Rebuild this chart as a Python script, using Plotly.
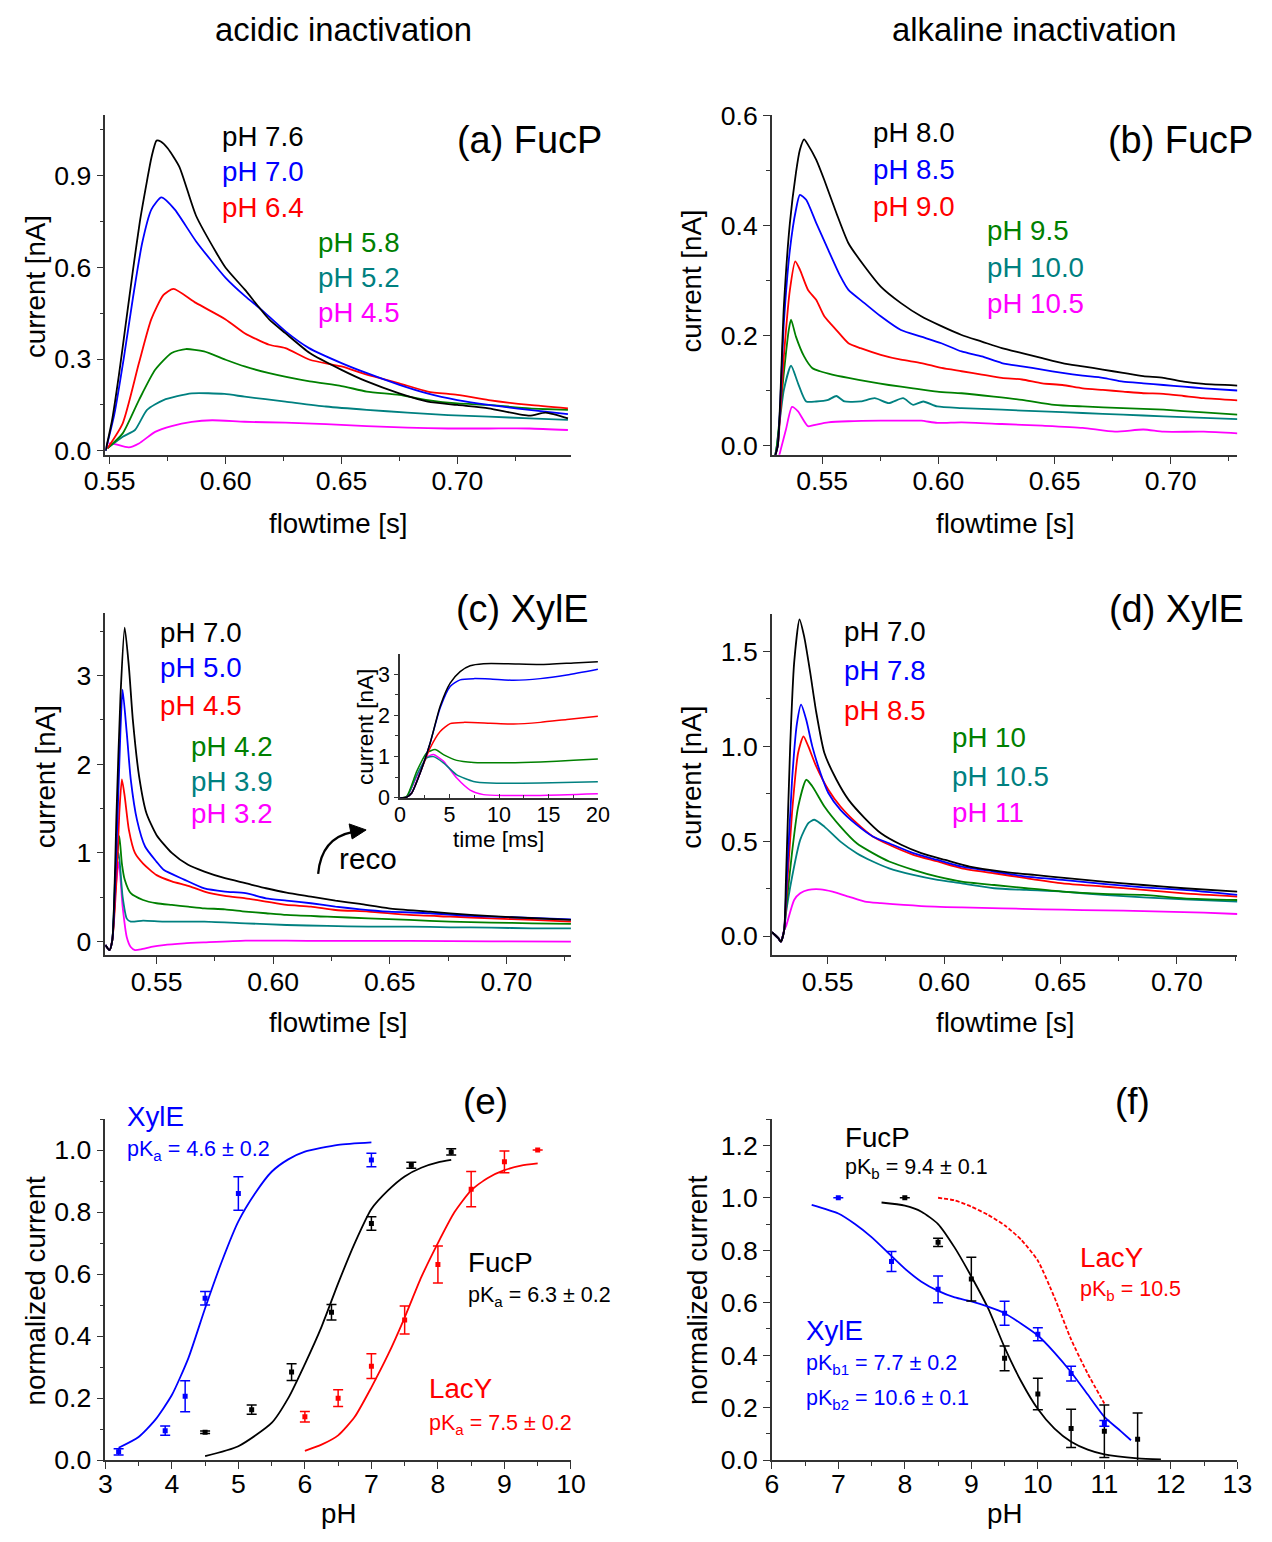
import plotly.graph_objects as go

W, H = 1272, 1542
FONT = "Liberation Sans, Arial, sans-serif"
AXC = "#333333"

BLACK = "#000000"
BLUE = "#0000ff"
RED = "#ff0000"
GREEN = "#008000"
TEAL = "#008080"
MAGENTA = "#ff00ff"

# ---------------- (a) FucP acidic ----------------
a_labels = ["pH 7.6", "pH 7.0", "pH 6.4", "pH 5.8", "pH 5.2", "pH 4.5"]
a76_x = [0.5482, 0.551, 0.554, 0.557, 0.560, 0.563, 0.566, 0.568, 0.5702, 0.572, 0.575, 0.580, 0.5872, 0.596,
         0.600, 0.6082, 0.6188, 0.6258, 0.6363, 0.650, 0.6609, 0.6749, 0.6872, 0.700, 0.7135, 0.7311, 0.7381, 0.7477]
a76_y = [0.0, 0.10, 0.25, 0.42, 0.59, 0.75, 0.88, 0.96, 1.015, 1.012, 0.99, 0.93, 0.77, 0.648,
         0.599, 0.528, 0.43, 0.385, 0.32, 0.265, 0.227, 0.188, 0.161, 0.150, 0.139, 0.115, 0.125, 0.106]
a70_x = [0.5482, 0.552, 0.556, 0.560, 0.564, 0.568, 0.5723, 0.578, 0.5872, 0.600, 0.6084, 0.6154, 0.626, 0.636,
         0.650, 0.661, 0.675, 0.687, 0.700, 0.7135, 0.731, 0.7477]
a70_y = [0.0, 0.12, 0.30, 0.50, 0.68, 0.79, 0.829, 0.79, 0.686, 0.566, 0.506, 0.462, 0.39, 0.336,
         0.287, 0.254, 0.216, 0.188, 0.166, 0.15, 0.134, 0.12]
a64_x = [0.549, 0.5556, 0.5626, 0.5679, 0.5732, 0.5775, 0.5872, 0.600, 0.6082, 0.6188, 0.6258, 0.6363, 0.650,
         0.6609, 0.6749, 0.6872, 0.700, 0.7135, 0.7311, 0.7477]
a64_y = [0.008, 0.09, 0.287, 0.43, 0.51, 0.53, 0.484, 0.43, 0.385, 0.347, 0.336, 0.298, 0.276,
         0.249, 0.221, 0.194, 0.183, 0.166, 0.15, 0.139]
a58_x = [0.549, 0.5556, 0.5626, 0.5696, 0.5767, 0.5828, 0.5907, 0.600, 0.6082, 0.6188, 0.6363, 0.650, 0.6609,
         0.6749, 0.6872, 0.700, 0.7135, 0.7311, 0.7477]
a58_y = [0.008, 0.057, 0.166, 0.265, 0.32, 0.333, 0.325, 0.298, 0.276, 0.254, 0.227, 0.212, 0.194,
         0.183, 0.166, 0.155, 0.15, 0.139, 0.134]
a52_x = [0.549, 0.5556, 0.5609, 0.5661, 0.5732, 0.5854, 0.5995, 0.6082, 0.6258, 0.6433, 0.6609, 0.6784, 0.696,
         0.7135, 0.7311, 0.7477]
a52_y = [0.008, 0.046, 0.068, 0.134, 0.166, 0.188, 0.186, 0.177, 0.161, 0.145, 0.134, 0.125, 0.117,
         0.112, 0.106, 0.101]
a45_x = [0.5495, 0.5521, 0.5582, 0.5626, 0.5696, 0.5767, 0.5854, 0.5942, 0.6082, 0.6258, 0.6433, 0.6609, 0.6784,
         0.696, 0.7135, 0.7311, 0.7477]
a45_y = [0.024, 0.022, 0.011, 0.024, 0.062, 0.081, 0.095, 0.10, 0.095, 0.092, 0.087, 0.081, 0.076,
         0.073, 0.073, 0.073, 0.068]

# ---------------- (b) FucP alkaline ----------------
b_labels = ["pH 8.0", "pH 8.5", "pH 9.0", "pH 9.5", "pH 10.0", "pH 10.5"]
b80_x = [0.5297, 0.5309, 0.5335, 0.5361, 0.5387, 0.5404, 0.5422, 0.5439, 0.5474, 0.5509, 0.5561, 0.5613, 0.5682,
         0.5752, 0.5839, 0.5926, 0.6013, 0.61, 0.6187, 0.6273, 0.636, 0.6447, 0.6534, 0.6621, 0.6708, 0.6795,
         0.6882, 0.6969, 0.7056, 0.7142, 0.7287]
b80_y = [-0.02, 0.0, 0.253, 0.405, 0.496, 0.538, 0.557, 0.547, 0.52, 0.483, 0.423, 0.368, 0.326,
         0.289, 0.259, 0.235, 0.217, 0.201, 0.189, 0.177, 0.168, 0.159, 0.15, 0.144, 0.138, 0.132,
         0.126, 0.123, 0.116, 0.112, 0.109]
b85_x = [0.5297, 0.5309, 0.5335, 0.5361, 0.5387, 0.5404, 0.5431, 0.5474, 0.5526, 0.5578, 0.5613, 0.5682, 0.5752,
         0.5839, 0.5926, 0.6013, 0.61, 0.6187, 0.6273, 0.636, 0.6447, 0.6534, 0.6621, 0.6708, 0.6795, 0.6882,
         0.6969, 0.7056, 0.7142, 0.7287]
b85_y = [-0.02, 0.0, 0.223, 0.356, 0.429, 0.456, 0.447, 0.405, 0.356, 0.308, 0.283, 0.259, 0.235,
         0.21, 0.198, 0.186, 0.171, 0.162, 0.15, 0.144, 0.138, 0.132, 0.127, 0.123, 0.116, 0.113,
         0.11, 0.107, 0.104, 0.10]
b90_x = [0.5297, 0.5309, 0.5335, 0.5361, 0.5384, 0.5404, 0.5439, 0.5474, 0.5509, 0.5561, 0.5613, 0.5665, 0.5752,
         0.5839, 0.5926, 0.6013, 0.61, 0.6187, 0.6273, 0.636, 0.6447, 0.6534, 0.6621, 0.6708, 0.6795, 0.6882,
         0.6969, 0.7056, 0.7142, 0.7287]
b90_y = [-0.02, 0.0, 0.162, 0.283, 0.335, 0.32, 0.283, 0.265, 0.235, 0.21, 0.186, 0.177, 0.165,
         0.156, 0.15, 0.141, 0.135, 0.129, 0.123, 0.12, 0.113, 0.11, 0.104, 0.101, 0.098, 0.095,
         0.094, 0.09, 0.086, 0.082]
b95_x = [0.5297, 0.5305, 0.5335, 0.5356, 0.5366, 0.5387, 0.5422, 0.5457, 0.5491, 0.5543, 0.5613, 0.57, 0.5787,
         0.5891, 0.5995, 0.61, 0.6239, 0.636, 0.6499, 0.6621, 0.6795, 0.6969, 0.7142, 0.7287]
b95_y = [-0.02, 0.0, 0.132, 0.21, 0.229, 0.198, 0.162, 0.141, 0.135, 0.129, 0.123, 0.116, 0.11,
         0.104, 0.098, 0.095, 0.089, 0.083, 0.074, 0.071, 0.068, 0.065, 0.06, 0.056]
b100_x = [0.5297, 0.5305, 0.5335, 0.5366, 0.5396, 0.5431, 0.5474, 0.5526, 0.5561, 0.5596, 0.5665, 0.5726, 0.5787,
          0.5848, 0.5891, 0.5935, 0.5995, 0.61, 0.6273, 0.6447, 0.6621, 0.6795, 0.6969, 0.7142, 0.7287]
b100_y = [-0.02, 0.0, 0.101, 0.145, 0.113, 0.08, 0.08, 0.083, 0.09, 0.08, 0.08, 0.086, 0.077,
          0.086, 0.074, 0.08, 0.071, 0.068, 0.065, 0.062, 0.059, 0.056, 0.053, 0.05, 0.048]
b105_x = [0.5314, 0.5344, 0.537, 0.5396, 0.5439, 0.5474, 0.5526, 0.5613, 0.5752, 0.5839, 0.5926, 0.5995, 0.61,
          0.6273, 0.6447, 0.6621, 0.676, 0.6882, 0.6969, 0.7142, 0.7287]
b105_y = [-0.02, 0.029, 0.07, 0.062, 0.035, 0.038, 0.042, 0.044, 0.045, 0.045, 0.045, 0.041, 0.042,
          0.039, 0.036, 0.032, 0.025, 0.029, 0.025, 0.025, 0.022]

# ---------------- (c) XylE acidic ----------------
c_labels = ["pH 7.0", "pH 5.0", "pH 4.5", "pH 4.2", "pH 3.9", "pH 3.2"]
c70_x = [0.528, 0.5298, 0.531, 0.5328, 0.5345, 0.5363, 0.5381, 0.5398, 0.5425, 0.5456, 0.55, 0.5565, 0.5635,
         0.5705, 0.5793, 0.5881, 0.5969, 0.6057, 0.6162, 0.6267, 0.6373, 0.6496, 0.6671, 0.6847, 0.7023, 0.7277]
c70_y = [-0.038, -0.094, 0.019, 1.45, 2.77, 3.54, 3.10, 2.5, 1.86, 1.45, 1.2, 1.0, 0.866,
         0.79, 0.715, 0.659, 0.602, 0.553, 0.508, 0.463, 0.425, 0.376, 0.339, 0.301, 0.275, 0.245]
c50_x = [0.528, 0.5298, 0.531, 0.5328, 0.5345, 0.5354, 0.5372, 0.5389, 0.5416, 0.5451, 0.55, 0.553, 0.5618,
         0.5705, 0.5793, 0.5881, 0.5969, 0.6057, 0.6162, 0.6267, 0.6373, 0.6496, 0.6671, 0.6847, 0.7023, 0.7277]
c50_y = [-0.038, -0.094, 0.019, 1.07, 2.39, 2.84, 2.35, 1.83, 1.37, 1.07, 0.9, 0.81, 0.70,
         0.60, 0.565, 0.546, 0.489, 0.463, 0.433, 0.395, 0.365, 0.339, 0.32, 0.29, 0.275, 0.252]
c45_x = [0.528, 0.5298, 0.531, 0.5328, 0.534, 0.5351, 0.5363, 0.5381, 0.5407, 0.5442, 0.55, 0.5565, 0.5635,
         0.5705, 0.5793, 0.5881, 0.5969, 0.6057, 0.6162, 0.6267, 0.6408, 0.6584, 0.6759, 0.6935, 0.711, 0.7277]
c45_y = [-0.038, -0.094, 0.019, 0.70, 1.45, 1.83, 1.64, 1.26, 1.0, 0.88, 0.75, 0.68, 0.63,
         0.565, 0.516, 0.489, 0.452, 0.414, 0.395, 0.357, 0.339, 0.301, 0.282, 0.263, 0.245, 0.226]
c42_x = [0.528, 0.5298, 0.531, 0.5328, 0.534, 0.5351, 0.5363, 0.5389, 0.5442, 0.55, 0.5565, 0.5635, 0.5705,
         0.5793, 0.5881, 0.5969, 0.6057, 0.6232, 0.6408, 0.6584, 0.6759, 0.6935, 0.711, 0.7277]
c42_y = [-0.038, -0.094, 0.019, 0.85, 1.19, 0.88, 0.70, 0.546, 0.47, 0.433, 0.414, 0.395, 0.376,
         0.365, 0.339, 0.32, 0.301, 0.282, 0.263, 0.245, 0.226, 0.215, 0.207, 0.2]
c39_x = [0.528, 0.5298, 0.531, 0.5324, 0.5337, 0.5354, 0.5372, 0.5389, 0.5442, 0.553, 0.5705, 0.5881, 0.6057,
         0.6232, 0.6408, 0.6584, 0.6759, 0.6935, 0.711, 0.7277]
c39_y = [-0.038, -0.094, 0.019, 0.8, 1.0, 0.51, 0.26, 0.226, 0.237, 0.226, 0.226, 0.207, 0.188,
         0.177, 0.169, 0.169, 0.162, 0.158, 0.15, 0.15]
c32_x = [0.528, 0.5298, 0.531, 0.5324, 0.5338, 0.5354, 0.5372, 0.5389, 0.5407, 0.5433, 0.5477, 0.553, 0.5618,
         0.5705, 0.5881, 0.6057, 0.6232, 0.6584, 0.6935, 0.7277]
c32_y = [-0.038, -0.094, 0.019, 0.6, 0.9, 0.4, 0.05, -0.06, -0.094, -0.087, -0.06, -0.038, -0.019,
         -0.008, 0.011, 0.011, 0.008, 0.008, 0.004, 0.0]

# inset of (c): time [ms] vs current [nA]
i70_x = [0, 0.67, 1.18, 2.02, 3.04, 4.05, 5.06, 6.07, 7.08, 8.43, 10.79, 14.17, 17.54, 20.0]
i70_y = [0, 0.02, 0.12, 0.6, 1.33, 2.22, 2.78, 3.06, 3.2, 3.25, 3.25, 3.23, 3.27, 3.3]
i50_x = [0, 0.67, 1.18, 2.02, 3.04, 4.05, 5.06, 6.07, 7.42, 9.11, 11.47, 14.17, 16.86, 20.0]
i50_y = [0, 0.02, 0.12, 0.6, 1.33, 2.18, 2.7, 2.86, 2.89, 2.88, 2.85, 2.89, 2.98, 3.12]
i45_x = [0, 0.67, 1.18, 2.02, 3.04, 4.05, 5.06, 6.41, 9.11, 11.47, 14.17, 16.86, 20.0]
i45_y = [0, 0.02, 0.12, 0.6, 1.21, 1.61, 1.8, 1.83, 1.81, 1.79, 1.83, 1.9, 1.98]
i42_x = [0, 0.67, 1.69, 2.70, 3.54, 4.38, 5.73, 7.42, 10.79, 14.17, 17.54, 20.0]
i42_y = [0, 0.04, 0.65, 1.09, 1.17, 1.05, 0.91, 0.86, 0.85, 0.87, 0.91, 0.94]
i39_x = [0, 0.67, 1.69, 2.70, 3.37, 4.38, 5.73, 7.42, 9.11, 14.17, 20.0]
i39_y = [0, 0.02, 0.56, 0.97, 1.0, 0.85, 0.56, 0.40, 0.36, 0.36, 0.39]
i32_x = [0, 0.67, 1.69, 2.70, 3.37, 4.38, 5.73, 7.08, 8.43, 10.79, 14.17, 20.0]
i32_y = [0, 0.02, 0.52, 0.99, 1.05, 0.89, 0.48, 0.19, 0.08, 0.06, 0.06, 0.1]

# ---------------- (d) XylE alkaline ----------------
d_labels = ["pH 7.0", "pH 7.8", "pH 8.5", "pH 10", "pH 10.5", "pH 11"]
d70_x = [0.5261, 0.5287, 0.5299, 0.5313, 0.5321, 0.5339, 0.5356, 0.5379, 0.5399, 0.5425, 0.5451, 0.5486, 0.5538,
         0.559, 0.566, 0.5729, 0.5816, 0.5902, 0.6006, 0.611, 0.6249, 0.6388, 0.6527, 0.6683, 0.6856, 0.703, 0.726]
d70_y = [0.02, -0.01, -0.03, 0.03, 0.30, 1.00, 1.44, 1.67, 1.58, 1.39, 1.18, 0.965, 0.824,
         0.718, 0.621, 0.542, 0.481, 0.437, 0.401, 0.366, 0.34, 0.322, 0.305, 0.287, 0.269, 0.252, 0.234]
d78_x = [0.5261, 0.5287, 0.5299, 0.5313, 0.5321, 0.5347, 0.5368, 0.5386, 0.5408, 0.5434, 0.5469, 0.5503, 0.5555,
         0.5625, 0.5694, 0.5764, 0.5868, 0.5972, 0.6076, 0.6215, 0.6353, 0.6509, 0.6683, 0.6856, 0.703, 0.726]
d78_y = [0.02, -0.01, -0.03, 0.03, 0.21, 0.82, 1.12, 1.22, 1.14, 1.0, 0.86, 0.754, 0.665,
         0.586, 0.525, 0.489, 0.437, 0.401, 0.366, 0.34, 0.313, 0.296, 0.275, 0.257, 0.243, 0.217]
d85_x = [0.5261, 0.5287, 0.5299, 0.5313, 0.5321, 0.5347, 0.5373, 0.5396, 0.5417, 0.5451, 0.5503, 0.5555, 0.5625,
         0.5694, 0.5764, 0.5868, 0.5972, 0.6076, 0.6215, 0.6353, 0.6509, 0.6683, 0.6856, 0.703, 0.726]
d85_y = [0.02, -0.01, -0.03, 0.03, 0.17, 0.65, 0.965, 1.053, 1.0, 0.894, 0.771, 0.683, 0.595,
         0.525, 0.481, 0.428, 0.393, 0.357, 0.331, 0.305, 0.278, 0.261, 0.243, 0.225, 0.208]
d100_x = [0.5261, 0.5287, 0.5299, 0.5313, 0.5321, 0.5347, 0.5373, 0.5408, 0.5434, 0.5486, 0.5555, 0.5625, 0.5694,
          0.5764, 0.5868, 0.5972, 0.6076, 0.6215, 0.6353, 0.6509, 0.6683, 0.6856, 0.703, 0.726]
d100_y = [0.02, -0.01, -0.03, 0.03, 0.14, 0.44, 0.68, 0.824, 0.79, 0.683, 0.577, 0.489, 0.437,
          0.393, 0.349, 0.313, 0.287, 0.269, 0.252, 0.234, 0.222, 0.217, 0.199, 0.19]
d105_x = [0.5261, 0.5287, 0.5299, 0.5313, 0.5321, 0.5347, 0.5382, 0.5417, 0.5443, 0.5486, 0.5555, 0.5625, 0.5694,
          0.5764, 0.5868, 0.5972, 0.6076, 0.6215, 0.6353, 0.6509, 0.6683, 0.6856, 0.703, 0.726]
d105_y = [0.02, -0.01, -0.03, 0.03, 0.12, 0.31, 0.507, 0.595, 0.613, 0.577, 0.498, 0.437, 0.393,
          0.357, 0.322, 0.296, 0.278, 0.252, 0.243, 0.234, 0.217, 0.204, 0.194, 0.181]
d110_x = [0.5261, 0.5287, 0.5299, 0.5313, 0.5321, 0.5356, 0.5382, 0.5417, 0.5469, 0.5521, 0.559, 0.566, 0.5729,
          0.5902, 0.6076, 0.6249, 0.6423, 0.6596, 0.677, 0.6943, 0.7116, 0.726]
d110_y = [0.02, -0.01, -0.03, 0.03, 0.05, 0.19, 0.225, 0.243, 0.246, 0.234, 0.208, 0.181, 0.173,
          0.158, 0.151, 0.146, 0.141, 0.137, 0.134, 0.129, 0.123, 0.116]

# ---------------- (e) acidic titration ----------------
e_xyle_ph = [3.2, 3.9, 4.2, 4.5, 5.0, 7.0]
e_xyle_val = [0.027, 0.095, 0.206, 0.522, 0.86, 0.968]
e_xyle_err = [0.01, 0.015, 0.05, 0.022, 0.054, 0.022]
e_fucp_ph = [4.5, 5.2, 5.8, 6.4, 7.0, 7.6, 8.2]
e_fucp_val = [0.09, 0.163, 0.284, 0.477, 0.763, 0.951, 0.994]
e_fucp_err = [0.004, 0.015, 0.027, 0.025, 0.022, 0.01, 0.01]
e_lacy_ph = [6.0, 6.5, 7.0, 7.5, 8.0, 8.5, 9.0, 9.5]
e_lacy_val = [0.14, 0.20, 0.303, 0.452, 0.631, 0.874, 0.962, 1.0]
e_lacy_err = [0.017, 0.027, 0.04, 0.045, 0.06, 0.057, 0.035, 0.0]
e_xyle_fit_ph = [3.2, 3.5, 3.75, 4.0, 4.25, 4.5, 4.75, 5.0, 5.25, 5.5, 5.75, 6.0, 6.5, 7.0]
e_xyle_fit = [0.04, 0.075, 0.13, 0.21, 0.33, 0.49, 0.64, 0.77, 0.86, 0.93, 0.97, 0.995, 1.017, 1.025]
e_fucp_fit_ph = [4.5, 5.0, 5.5, 5.75, 6.0, 6.25, 6.5, 6.75, 7.0, 7.25, 7.5, 7.75, 8.0, 8.2]
e_fucp_fit = [0.013, 0.045, 0.12, 0.2, 0.31, 0.43, 0.57, 0.70, 0.81, 0.87, 0.915, 0.943, 0.96, 0.968]
e_lacy_fit_ph = [6.0, 6.25, 6.5, 6.75, 7.0, 7.25, 7.5, 7.75, 8.0, 8.25, 8.5, 8.75, 9.0, 9.25, 9.5]
e_lacy_fit = [0.03, 0.05, 0.08, 0.14, 0.235, 0.34, 0.46, 0.59, 0.70, 0.80, 0.87, 0.91, 0.935, 0.95, 0.957]

# ---------------- (f) alkaline titration ----------------
f_xyle_ph = [7.0, 7.8, 8.5, 9.5, 10.0, 10.5, 11.0]
f_xyle_val = [1.0, 0.757, 0.651, 0.56, 0.48, 0.33, 0.14]
f_xyle_err = [0.0, 0.038, 0.051, 0.046, 0.025, 0.028, 0.011]
f_fucp_ph = [8.0, 8.5, 9.0, 9.5, 10.0, 10.5, 11.0, 11.5]
f_fucp_val = [1.0, 0.83, 0.69, 0.388, 0.252, 0.121, 0.11, 0.08]
f_fucp_err = [0.0, 0.016, 0.083, 0.047, 0.06, 0.073, 0.1, 0.1]
f_xyle_fit_ph = [6.6, 7.0, 7.25, 7.5, 7.75, 8.0, 8.25, 8.5, 8.75, 9.0, 9.25, 9.5, 9.75, 10.0, 10.25, 10.5,
                 10.75, 11.0, 11.25, 11.4]
f_xyle_fit = [0.973, 0.94, 0.90, 0.85, 0.79, 0.73, 0.68, 0.645, 0.62, 0.605, 0.585, 0.56, 0.52, 0.475, 0.41,
              0.335, 0.25, 0.165, 0.11, 0.076]
f_fucp_fit_ph = [7.65, 8.0, 8.25, 8.5, 8.75, 9.0, 9.25, 9.5, 9.75, 10.0, 10.25, 10.5, 10.75, 11.0, 11.5, 11.85]
f_fucp_fit = [0.982, 0.97, 0.947, 0.90, 0.81, 0.70, 0.58, 0.43, 0.30, 0.195, 0.12, 0.07, 0.04, 0.022, 0.007, 0.003]
f_lacy_fit_ph = [8.5, 8.75, 9.0, 9.25, 9.5, 9.75, 10.0, 10.25, 10.5, 10.75, 11.0]
f_lacy_fit = [1.0, 0.99, 0.966, 0.935, 0.895, 0.84, 0.76, 0.62, 0.46, 0.33, 0.216]

COLORS = [BLACK, BLUE, RED, GREEN, TEAL, MAGENTA]

# the captured picture comes out slightly shrunk and offset; positions below are
# given in picture pixels and mapped back to layout pixels here
SX, OX = 0.9725, 20.6
SY, OY = 0.9808, 14.4
FS = 1 / 0.976  # font compensation


def X(p):
    return (p - OX) / SX / W


def Y(p):
    return 1 - (p - OY) / SY / H


def f(s):
    return round(s * FS, 1)


def axis(xpx, rng, dtick, mdtick, fmt, anchor, tick0=0, fs=26, tl=7, mtl=4, vert=False, ticks="outside", so=0):
    dom = [Y(xpx[1]), Y(xpx[0])] if vert else [X(xpx[0]), X(xpx[1])]
    return dict(domain=dom, range=rng, anchor=anchor, showline=True, linecolor=AXC, linewidth=1.5,
                ticks=ticks, ticklen=tl, tickwidth=1.4, tickcolor=AXC, tick0=tick0, dtick=dtick,
                tickformat=fmt, showgrid=False, zeroline=False, fixedrange=True, ticklabelstandoff=so,
                tickfont=dict(size=f(fs), color="black", family=FONT),
                minor=dict(dtick=mdtick, tick0=tick0, ticks=ticks, ticklen=mtl, tickwidth=1.4,
                           tickcolor=AXC, showgrid=False))


fig = go.Figure()


def line(x, y, color, xa, ya, dash=None, width=1.8):
    fig.add_trace(go.Scatter(x=x, y=y, mode="lines", xaxis=xa, yaxis=ya, showlegend=False,
                             line=dict(color=color, width=width, dash=dash, shape="spline", smoothing=0.6)))


def points(x, y, err, color, xa, ya):
    fig.add_trace(go.Scatter(x=x, y=y, mode="markers", xaxis=xa, yaxis=ya, showlegend=False,
                             marker=dict(color=color, size=5, symbol="square"),
                             error_y=dict(type="data", array=err, visible=True, color=color,
                                          thickness=1.5, width=5)))


panels = [
    ("x", "y", [(a76_x, a76_y), (a70_x, a70_y), (a64_x, a64_y), (a58_x, a58_y), (a52_x, a52_y), (a45_x, a45_y)]),
    ("x2", "y2", [(b80_x, b80_y), (b85_x, b85_y), (b90_x, b90_y), (b95_x, b95_y), (b100_x, b100_y),
                  (b105_x, b105_y)]),
    ("x3", "y3", [(c70_x, c70_y), (c50_x, c50_y), (c45_x, c45_y), (c42_x, c42_y), (c39_x, c39_y), (c32_x, c32_y)]),
    ("x4", "y4", [(d70_x, d70_y), (d78_x, d78_y), (d85_x, d85_y), (d100_x, d100_y), (d105_x, d105_y),
                  (d110_x, d110_y)]),
    ("x7", "y7", [(i70_x, i70_y), (i50_x, i50_y), (i45_x, i45_y), (i42_x, i42_y), (i39_x, i39_y), (i32_x, i32_y)]),
]
for xa, ya, series in panels:
    # lower curves first so the black one ends on top
    for (sx, sy), col in reversed(list(zip(series, COLORS))):
        line(sx, sy, col, xa, ya, width=1.8 if xa != "x7" else 1.5)

# (e)
line(e_xyle_fit_ph, e_xyle_fit, BLUE, "x5", "y5")
line(e_fucp_fit_ph, e_fucp_fit, BLACK, "x5", "y5")
line(e_lacy_fit_ph, e_lacy_fit, RED, "x5", "y5")
points(e_xyle_ph, e_xyle_val, e_xyle_err, BLUE, "x5", "y5")
points(e_fucp_ph, e_fucp_val, e_fucp_err, BLACK, "x5", "y5")
points(e_lacy_ph, e_lacy_val, e_lacy_err, RED, "x5", "y5")

# (f)
line(f_lacy_fit_ph, f_lacy_fit, RED, "x6", "y6", dash="4px,2px")
line(f_fucp_fit_ph, f_fucp_fit, BLACK, "x6", "y6")
line(f_xyle_fit_ph, f_xyle_fit, BLUE, "x6", "y6")
points(f_fucp_ph, f_fucp_val, f_fucp_err, BLACK, "x6", "y6")
points(f_xyle_ph, f_xyle_val, f_xyle_err, BLUE, "x6", "y6")

L = (105, 571)
R = (772, 1238)
ROW1 = (115, 455)
ROW2 = (613, 955)
ROW3 = (1119, 1460)

fig.update_layout(
    width=W, height=H, margin=dict(l=0, r=0, t=0, b=0),
    paper_bgcolor="white", plot_bgcolor="white",
    font=dict(family=FONT, size=26, color="black"),
    xaxis=axis(L, [0.5481, 0.749], 0.05, 0.025, ".2f", "y", tick0=0.55, so=-5),
    yaxis=axis(ROW1, [-0.013, 1.10], 0.3, 0.15, ".1f", "x", vert=True),
    xaxis2=axis(R, [0.5283, 0.7287], 0.05, 0.025, ".2f", "y2", tick0=0.55, so=-5),
    yaxis2=axis(ROW1, [-0.017, 0.602], 0.2, 0.1, ".1f", "x2", vert=True),
    xaxis3=axis(L, [0.528, 0.7277], 0.05, 0.025, ".2f", "y3", tick0=0.55, so=-5),
    yaxis3=axis(ROW2, [-0.15, 3.706], 1, 0.5, "d", "x3", vert=True),
    xaxis4=axis(R, [0.526, 0.726], 0.05, 0.025, ".2f", "y4", tick0=0.55, so=-5),
    yaxis4=axis((614, 955), [-0.10, 1.699], 0.5, 0.25, ".1f", "x4", vert=True),
    xaxis5=axis(L, [3, 10], 1, 0.5, "d", "y5", so=-8),
    yaxis5=axis(ROW3, [0, 1.1], 0.2, 0.1, ".1f", "x5", vert=True),
    xaxis6=axis(R, [6, 13], 1, 0.5, "d", "y6", so=-8),
    yaxis6=axis(ROW3, [0, 1.3], 0.2, 0.1, ".1f", "x6", vert=True),
    xaxis7=axis((400, 598), [0, 20], 5, 2.5, "d", "y7", fs=21, tl=4, mtl=3, ticks="inside", so=-3),
    yaxis7=axis((654, 798), [0, 3.49], 1, 0.5, "d", "x7", fs=21, tl=4, mtl=3, vert=True),
)

ann = []


def text(s, px, py, size=26, color=BLACK, xanchor="center", angle=0):
    ann.append(dict(text=s, x=X(px), y=Y(py), xref="paper", yref="paper", showarrow=False,
                    xanchor=xanchor, yanchor="middle", textangle=angle,
                    font=dict(size=f(size), color=color, family=FONT)))


# column titles
text("acidic inactivation", 343, 30, size=32)
text("alkaline inactivation", 1034, 30, size=32)

# panel labels
text("(a) FucP", 604, 140, size=37, xanchor="right")
text("(b) FucP", 1256, 140, size=37, xanchor="right")
text("(c) XylE", 591, 609, size=37, xanchor="right")
text("(d) XylE", 1247, 609, size=37, xanchor="right")
text("(e)", 485, 1101, size=36)
text("(f)", 1133, 1101, size=36)

# axis titles
for cx in (338, 1005):
    text("flowtime [s]", cx, 524, size=27)
    text("flowtime [s]", cx, 1022, size=27)
    text("pH", cx, 1513, size=27)
text("current [nA]", 35, 287, size=27, angle=-90)
text("current [nA]", 692, 281, size=27, angle=-90)
text("current [nA]", 46, 777, size=27, angle=-90)
text("current [nA]", 692, 777, size=27, angle=-90)
text("normalized current", 35, 1290, size=27, angle=-90)
text("normalized current", 697, 1290, size=27, angle=-90)
text("current [nA]", 366, 727, size=22, angle=-90)
text("time [ms]", 498, 840, size=22)

# pH labels
label_pos = [
    (a_labels, (220, 316), (137, 172, 208, 243, 278, 313)),
    (b_labels, (871, 985), (133, 170, 207, 231, 268, 304)),
    (c_labels, (158, 189), (633, 668, 706, 747, 782, 814)),
    (d_labels, (842, 950), (632, 671, 711, 738, 777, 813)),
]
for labels, (x1, x2), ys in label_pos:
    for i, (lab, col) in enumerate(zip(labels, COLORS)):
        text(lab, x1 if i < 3 else x2, ys[i], size=27, color=col, xanchor="left")

# fit annotations (e)
text("XylE", 125, 1116, size=27, color=BLUE, xanchor="left")
text("pK<sub>a</sub> = 4.6 ± 0.2", 125, 1150, size=21, color=BLUE, xanchor="left")
text("FucP", 466, 1262, size=27, color=BLACK, xanchor="left")
text("pK<sub>a</sub> = 6.3 ± 0.2", 466, 1296, size=21, color=BLACK, xanchor="left")
text("LacY", 427, 1388, size=27, color=RED, xanchor="left")
text("pK<sub>a</sub> = 7.5 ± 0.2", 427, 1424, size=21, color=RED, xanchor="left")

# fit annotations (f)
text("FucP", 843, 1137, size=27, color=BLACK, xanchor="left")
text("pK<sub>b</sub> = 9.4 ± 0.1", 843, 1168, size=21, color=BLACK, xanchor="left")
text("LacY", 1078, 1257, size=27, color=RED, xanchor="left")
text("pK<sub>b</sub> = 10.5", 1078, 1290, size=21, color=RED, xanchor="left")
text("XylE", 804, 1330, size=27, color=BLUE, xanchor="left")
text("pK<sub>b1</sub> = 7.7 ± 0.2", 804, 1364, size=21, color=BLUE, xanchor="left")
text("pK<sub>b2</sub> = 10.6 ± 0.1", 804, 1399, size=21, color=BLUE, xanchor="left")

# "reco" with curved arrow
text("reco", 368, 859, size=29)
fig.update_layout(annotations=ann)


def pt(px, py):
    return f"{X(px)},{Y(py)}"


fig.add_shape(type="path", xref="paper", yref="paper",
              path=f"M {pt(318, 874)} Q {pt(321, 838)} {pt(353, 832)}",
              line=dict(color=BLACK, width=2.3))
fig.add_shape(type="path", xref="paper", yref="paper",
              path=f"M {pt(366, 830)} L {pt(349, 824)} L {pt(352, 839)} Z",
              fillcolor=BLACK, line=dict(color=BLACK, width=1))

fig.write_html("out.html", config={"displayModeBar": False},
               post_script="document.body.style.margin='0px';")
